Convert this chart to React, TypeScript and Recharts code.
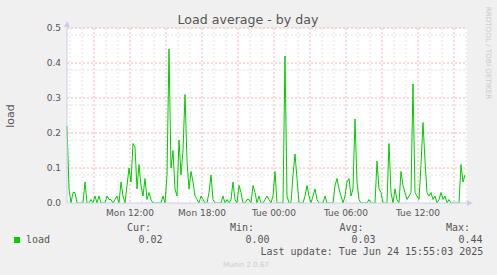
import { LineChart, Line, XAxis, YAxis, CartesianGrid } from "recharts";

// 10-minute samples, starting Mon 06:45
const loadValues = [
  0.22, 0.04, 0.0, 0.03, 0.03, 0.0, 0.0, 0.0, 0.0, 0.06,
  0.0, 0.0, 0.01, 0.0, 0.02, 0.0, 0.02, 0.0, 0.0, 0.0,
  0.02, 0.01, 0.01, 0.0, 0.01, 0.02, 0.0, 0.06, 0.02, 0.0,
  0.05, 0.1, 0.06, 0.17, 0.16, 0.04, 0.11, 0.05, 0.02, 0.07,
  0.01, 0.03, 0.01, 0.0, 0.0, 0.0, 0.0, 0.0, 0.02, 0.0,
  0.08, 0.44, 0.1, 0.15, 0.04, 0.02, 0.18, 0.08, 0.15, 0.31,
  0.12, 0.04, 0.09, 0.06, 0.02, 0.01, 0.0, 0.02, 0.01, 0.0,
  0.0, 0.03, 0.08, 0.01, 0.0, 0.0, 0.0, 0.0, 0.02, 0.0,
  0.01, 0.0, 0.01, 0.06, 0.01, 0.0, 0.05, 0.03, 0.0, 0.0,
  0.01, 0.01, 0.0, 0.05, 0.03, 0.0, 0.02, 0.0, 0.0, 0.01,
  0.02, 0.01, 0.0, 0.02, 0.09, 0.0, 0.0, 0.0, 0.0, 0.42,
  0.02, 0.0, 0.0, 0.08, 0.14, 0.07, 0.0, 0.0, 0.0, 0.02,
  0.05, 0.02, 0.0, 0.02, 0.04, 0.01, 0.0, 0.0, 0.0, 0.02,
  0.0, 0.0, 0.0, 0.0, 0.05, 0.07, 0.04, 0.02, 0.0, 0.02,
  0.06, 0.07, 0.02, 0.04, 0.24, 0.06, 0.01, 0.0, 0.0, 0.0,
  0.0, 0.01, 0.0, 0.0, 0.0, 0.12, 0.04, 0.03, 0.0, 0.0,
  0.0, 0.17, 0.03, 0.0, 0.04, 0.01, 0.0, 0.09, 0.05, 0.03,
  0.01, 0.02, 0.03, 0.34, 0.03, 0.02, 0.01, 0.11, 0.23, 0.12,
  0.03, 0.02, 0.03, 0.01, 0.02, 0.0, 0.01, 0.03, 0.01, 0.02,
  0.0, 0.01, 0.0, 0.0, 0.0, 0.0, 0.0, 0.11, 0.06, 0.08,
];

const tickMinutes = [315, 675, 1035, 1395, 1755];
const tickLabels = ["Mon 12:00", "Mon 18:00", "Tue 00:00", "Tue 06:00", "Tue 12:00"];
const yTicks = [0, 0.1, 0.2, 0.3, 0.4, 0.5];

const legendStats = [
  { label: "Cur:", value: "0.02", lx: 127, vx: 138.5 },
  { label: "Min:", value: "0.00", lx: 230, vx: 245.5 },
  { label: "Avg:", value: "0.03", lx: 339.5, vx: 351.5 },
  { label: "Max:", value: "0.44", lx: 446, vx: 458.5 },
];

const data = loadValues.map((v, i) => ({ t: i * 10, load: v }));

// grid: hourly minor / 3-hourly major, 0.02 minor / 0.1 major
const hourLines: number[] = [];
const majorVLines: number[] = [];
for (let m = 15; m < 2000; m += 60) {
  if ((m - 135) % 180 === 0) majorVLines.push(m);
  else hourLines.push(m);
}
const minorHLines: number[] = [];
for (let k = 1; k < 25; k++) if (k % 5 !== 0) minorHLines.push(k * 0.02);
const majorHLines = [0.1, 0.2, 0.3, 0.4, 0.5];

const AXIS = "#ccccee";
const TEXT = "#555";

export default function App() {
  return (
    <div
      style={{
        position: "absolute",
        left: 0,
        top: 0,
        width: 497,
        height: 275,
        background: "#f0f0f0",
        fontFamily: "DejaVu Sans",
      }}
    >
      <LineChart
        width={497}
        height={275}
        data={data}
        margin={{ top: 28, right: 30, bottom: 0, left: 0 }}
      >
        <CartesianGrid
          fill="#ffffff"
          stroke="#e2e2e2"
          strokeDasharray="2 2"
          horizontalValues={minorHLines}
          verticalValues={hourLines}
        />
        <CartesianGrid
          fill="none"
          stroke="#f0b4b4"
          strokeDasharray="2 2"
          horizontalValues={majorHLines}
          verticalValues={majorVLines}
        />
        <XAxis
          dataKey="t"
          type="number"
          domain={[0, 2000]}
          ticks={tickMinutes}
          tickFormatter={(v: number) => tickLabels[tickMinutes.indexOf(v)]}
          height={72}
          tickLine={false}
          tickSize={0}
          tickMargin={7}
          axisLine={{ stroke: AXIS }}
          tick={{ fill: TEXT, fontSize: 9, fontFamily: "DejaVu Sans" }}
          interval={0}
        />
        <YAxis
          type="number"
          domain={[0, 0.5]}
          ticks={yTicks}
          tickFormatter={(v: number) => v.toFixed(1)}
          width={67}
          tickLine={false}
          tickSize={0}
          tickMargin={6}
          axisLine={{ stroke: AXIS }}
          tick={{ fill: TEXT, fontSize: 9, fontFamily: "DejaVu Sans" }}
          allowDataOverflow
        />
        <Line
          type="linear"
          dataKey="load"
          stroke="#00cc00"
          strokeWidth={1}
          dot={false}
          isAnimationActive={false}
        />
      </LineChart>
      <svg
        width={497}
        height={275}
        style={{ position: "absolute", left: 0, top: 0, pointerEvents: "none" }}
      >
        <polygon points="64,27 70,27 67,21" fill={AXIS} />
        <polygon points="467,200 467,206 473,203" fill={AXIS} />
        <text x={248} y={23.5} textAnchor="middle" fontSize={12.6} fill={TEXT} fontFamily="DejaVu Sans">
          Load average - by day
        </text>
        <text
          x={13.5}
          y={116}
          transform="rotate(-90 13.5 116)"
          textAnchor="middle"
          fontSize={11}
          fill={TEXT}
          fontFamily="DejaVu Sans"
        >
          load
        </text>
        <text
          x={486}
          y={53}
          transform="rotate(90 486 53)"
          textAnchor="middle"
          fontSize={7.2}
          fill="#cccccc"
          fontFamily="DejaVu Sans"
        >
          RRDTOOL / TOBI OETIKER
        </text>
        <g fontFamily="DejaVu Sans Mono" fontSize={10} fill={TEXT}>
          {legendStats.map((s) => (
            <g key={s.label}>
              <text x={s.lx} y={231}>{s.label}</text>
              <text x={s.vx} y={243}>{s.value}</text>
            </g>
          ))}
          <rect x={14} y={237} width={6} height={6} fill="#00cc00" />
          <text x={26} y={243}>load</text>
          <text x={260.5} y={254.5}>Last update: Tue Jun 24 15:55:03 2025</text>
        </g>
        <text x={223} y={267} fontSize={7} fill="#cccccc" fontFamily="DejaVu Sans">
          Munin 2.0.67
        </text>
      </svg>
    </div>
  );
}
